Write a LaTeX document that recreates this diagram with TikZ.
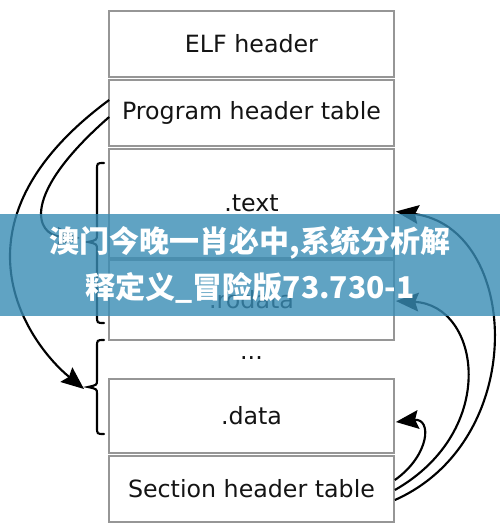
\documentclass[tikz,border=0pt]{standalone}
\usepackage{fontspec}
\setmainfont{DejaVu Sans}
\newfontfamily\cjk{Noto Sans CJK SC}
\usetikzlibrary{arrows.meta,fit,calc}
\definecolor{boxgray}{RGB}{150,150,150}
\definecolor{textdark}{RGB}{20,20,20}
\definecolor{bannerblue}{RGB}{57,140,181}
\begin{document}
\begin{tikzpicture}[x=0.75pt,y=-0.75pt,
  box/.style={draw=boxgray, line width=1.3pt, inner sep=0pt, fill=white},
  lbl/.style={font=\fontsize{17.8}{20}\selectfont, text=textdark},
  arr/.style={line width=1.6pt, -{Stealth[length=17pt,width=14pt,inset=2.5pt]}},
  bracepath/.style={line width=1.6pt, line cap=round},
  bannertext/.style={font=\cjk\bfseries\fontsize{22.5}{26}\selectfont, text=white}]
\useasboundingbox (0,0) rectangle (500,532);
\fill[white] (0,0) rectangle (500,532);

% boxes
\node[box, fit={(109,11)(394,77)}, label={[lbl]center:ELF header}] (elf) {};
\node[box, fit={(109,80)(394,146)}, label={[lbl]center:Program header table}] (pht) {};
\node[box, fit={(109,149)(394,258)}, label={[lbl]center:.text}] (text) {};
\node[box, fit={(109,260)(394,340)}, label={[lbl]center:.rodata}] (rodata) {};
\node[lbl] (dots) at (251.5,358) {...};
\node[box, fit={(109,379)(394,453)}, label={[lbl]center:.data}] (data) {};
\node[box, fit={(109,456)(394,522)}, label={[lbl]center:Section header table}] (sht) {};

% braces
\coordinate (br1) at (88,242);
\coordinate (br2) at (88,387);
\draw[bracepath] (104,163) .. controls (97,163) .. (97,170) -- (97,234)
  .. controls (97,240) .. (br1) .. controls (97,244) .. (97,250) -- (97,316)
  .. controls (97,323) .. (104,323);
\draw[bracepath] (104,340) .. controls (97,340) .. (97,347) -- (97,380)
  .. controls (97,385) .. (br2) .. controls (97,389) .. (97,394) -- (97,427)
  .. controls (97,434) .. (104,434);

% left arrows
\coordinate (t1) at (80,238);
\coordinate (t2) at (84,389);
\draw[arr] ($(pht.west)+(1,4)$) .. controls (20,195) and (35,235) .. (t1);
\draw[arr] ($(pht.west)+(1,-13)$) .. controls (-60,225) and (30,345) .. (t2);

% right arrows
\draw[arr] ($(sht.east)+(0,-9)$) .. controls (430,455) and (432,418) .. ($(data.east)+(1,6)$);
\draw[arr] ($(sht.east)+(0,1)$) .. controls (500,430) and (480,305) .. ($(rodata.east)+(1,1)$);
\draw[arr] ($(sht.east)+(0,11)$) .. controls (530,440) and (520,228) .. ($(text.east)+(1,8)$);

% banner
\fill[bannerblue, opacity=0.8] (0,214) rectangle (500,316);
\node[bannertext] (b1) at (250,243) {澳门今晚一肖必中,系统分析解};
\node[bannertext] (b2) at (250,288) {释定义\_冒险版73.730-1};
\end{tikzpicture}
\end{document}
